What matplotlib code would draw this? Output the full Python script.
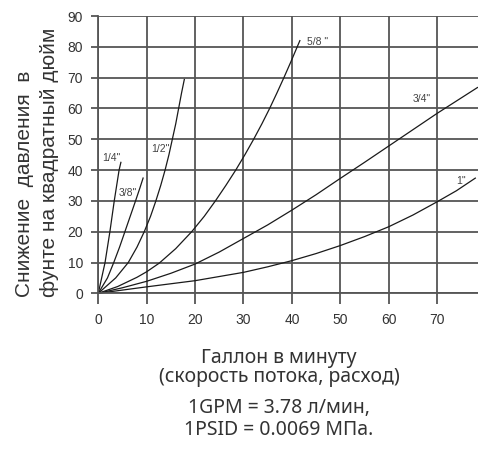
import matplotlib.pyplot as plt

# flow (GPM) vs pressure drop (PSI)
pipe_sizes = ['1/4"', '3/8"', '1/2"', '5/8 "', '3/4"', '1"']

flow_14 = [0, 1.4, 2.4, 3.3, 4.3, 4.7]
drop_14 = [0, 10, 20, 30, 40, 42.7]

flow_38 = [0, 1.9, 3.2, 4.4, 5.5, 6.6, 7.7, 8.6, 9.3]
drop_38 = [0, 5, 10, 15, 20, 25, 30, 34.2, 37.6]

flow_12 = [0, 3.6, 6.2, 8.0, 9.5, 10.8, 11.9, 12.9, 13.8, 14.6, 15.3, 16.0, 16.6, 17.2, 17.8]
drop_12 = [0, 5, 10, 15, 20, 25, 30, 35, 40, 45, 50, 55, 60, 65, 69.6]

flow_58 = [0, 4, 8, 10, 12.6, 16, 19.3, 21.9, 24.2, 26.35, 28.4, 30.3, 32.1, 33.8, 35.4,
           36.9, 38.35, 39.75, 41.1, 41.7]
drop_58 = [0, 2.2, 5.2, 7, 9.8, 14.5, 20, 25, 30, 35, 40, 45, 50, 55, 60,
           65, 70, 75, 80, 82.2]

flow_34 = [0, 5, 10, 15, 20, 25, 30, 35, 40, 45, 50, 55, 60, 65, 70, 78.45]
drop_34 = [0, 1.8, 3.9, 6.5, 9.5, 13.4, 17.8, 22.2, 27.0, 32.0, 37.3, 42.5, 47.8, 53.1, 58.4, 66.9]

flow_1 = [0, 10, 20, 30, 35, 40, 45, 50, 55, 60, 65, 70, 74, 78]
drop_1 = [0, 2.1, 4.1, 6.8, 8.6, 10.6, 12.9, 15.5, 18.4, 21.6, 25.4, 29.7, 33.3, 37.5]

# where the size labels sit (GPM, PSI)
label_x = [0.8, 4.3, 11.0, 43.2, 65.0, 73.9]
label_y = [44.0, 32.4, 47.0, 81.5, 63.0, 36.4]

x_ticks = [0, 10, 20, 30, 40, 50, 60, 70]
y_ticks = [0, 10, 20, 30, 40, 50, 60, 70, 80, 90]

fig = plt.figure(figsize=(4.78, 4.5), dpi=100)
ax = fig.add_axes([0.2056, 0.3482, 0.7944, 0.6162])

curves = [(flow_14, drop_14), (flow_38, drop_38), (flow_12, drop_12),
          (flow_58, drop_58), (flow_34, drop_34), (flow_1, drop_1)]
for (fx, fy) in curves:
    ax.plot(fx, fy, color='#1a1a1a', lw=0.9, solid_capstyle='butt', clip_on=False)

for name, lx, ly in zip(pipe_sizes, label_x, label_y):
    ax.text(lx, ly, name, fontsize=7.5, color='#444444', family='Liberation Sans',
            ha='left', va='center')

ax.set_xlim(0, 78.45)
ax.set_ylim(0, 90)
ax.set_xticks(x_ticks)
ax.set_yticks(y_ticks)
ax.grid(True, color='#555555', lw=1.3)
ax.set_axisbelow(True)
for s in ['top', 'right']:
    ax.spines[s].set_visible(False)
for s in ['left', 'bottom']:
    ax.spines[s].set_color('#555555')
    ax.spines[s].set_linewidth(1.3)
ax.tick_params(axis='x', length=8, width=1.3, color='#555555', pad=6)
ax.tick_params(axis='y', length=5, width=1.3, color='#555555', pad=6)
for lab in ax.get_xticklabels() + ax.get_yticklabels():
    lab.set_family('Liberation Sans')
    lab.set_fontsize(10)
    lab.set_color('#333333')

# rotated y label, two lines starting at the same place
fig.text(25 / 478, 0.34, 'Снижение  давления  в', rotation=90, ha='center', va='bottom',
         fontsize=15, family='Liberation Sans', color='#333333')
fig.text(50 / 478, 0.34, 'фунте на квадратный дюйм', rotation=90, ha='center', va='bottom',
         fontsize=15, family='Liberation Sans', color='#333333')

cx = 279 / 478
fig.text(cx, 0.2044, 'Галлон в минуту', ha='center', va='center', fontsize=14,
         family='Noto Sans', color='#333333')
fig.text(cx, 0.1622, '(скорость потока, расход)', ha='center', va='center', fontsize=14,
         family='Noto Sans', color='#333333')
fig.text(cx, 0.0933, '1GPM = 3.78 л/мин,', ha='center', va='center', fontsize=14,
         family='Noto Sans', color='#333333')
fig.text(cx, 0.0444, '1PSID = 0.0069 МПа.', ha='center', va='center', fontsize=14,
         family='Noto Sans', color='#333333')

fig.savefig('out.png', dpi=100)
